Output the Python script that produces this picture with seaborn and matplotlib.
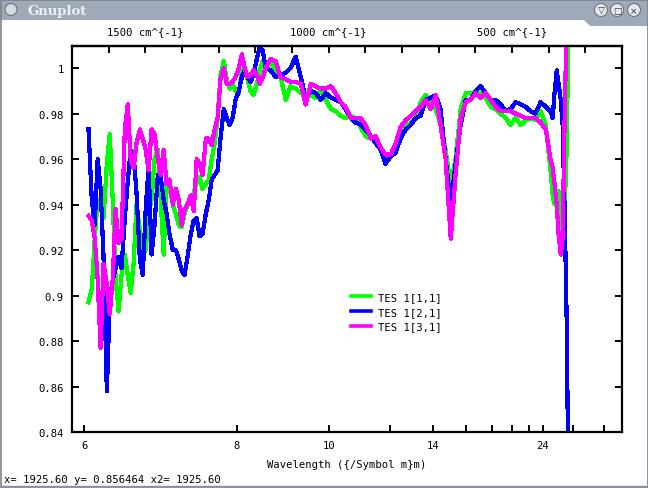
import numpy as np
import pandas as pd
import matplotlib
matplotlib.use("Agg")
import matplotlib.pyplot as plt
import seaborn as sns
from matplotlib.patches import Rectangle, Circle, Polygon

# ---------------- data ----------------
wavenumber = [1655, 1646, 1638, 1630, 1622, 1614, 1605, 1597, 1589, 1581, 1573, 1565, 1556, 1548, 1540,
              1532, 1524, 1515, 1507, 1499, 1491, 1483, 1475, 1466, 1458, 1450, 1442, 1434, 1425, 1417,
              1409, 1401, 1393, 1385, 1376, 1368, 1360, 1352, 1344, 1335, 1327, 1319, 1311, 1303, 1295,
              1286, 1278, 1270, 1262, 1254, 1245, 1237, 1229, 1221, 1213, 1205, 1196, 1188, 1180, 1172,
              1158, 1145, 1131, 1117, 1104, 1090, 1076, 1063, 1049, 1035, 1022, 1008, 994, 981, 967,
              954, 940, 926, 913, 899, 885, 872, 858, 845, 831, 817, 804, 790, 776, 763,
              749, 736, 722, 708, 695, 681, 667, 654, 640, 626, 613, 599, 586, 572, 558,
              545, 531, 517, 504, 490, 476, 463, 449, 436, 422, 408, 395,
              389, 384, 378, 373, 367, 362, 356, 351, 345]

tes_1_1 = [0.897, 0.903, 0.925, 0.942, 0.940, 0.934, 0.958, 0.971, 0.942, 0.907, 0.893, 0.909, 0.918, 0.909, 0.901,
           0.914, 0.940, 0.929, 0.918, 0.920, 0.936, 0.942, 0.960, 0.964, 0.942, 0.918, 0.949, 0.947, 0.940, 0.936,
           0.931, 0.930, 0.936, 0.940, 0.942, 0.945, 0.950, 0.952, 0.947, 0.949, 0.951, 0.960, 0.967, 0.978, 0.997,
           1.003, 0.995, 0.991, 0.993, 0.990, 0.989, 0.999, 1.000, 0.995, 0.990, 0.988, 0.993, 0.999, 1.003, 1.002,
           1.003, 0.997, 0.996, 0.986, 0.992, 0.991, 0.989, 0.989, 0.988, 0.987, 0.990, 0.986, 0.982, 0.981, 0.979,
           0.978, 0.979, 0.978, 0.974, 0.970, 0.969, 0.968, 0.964, 0.960, 0.962, 0.967, 0.971, 0.974, 0.976, 0.978,
           0.985, 0.988, 0.986, 0.982, 0.975, 0.964, 0.948, 0.960, 0.982, 0.989, 0.989, 0.989, 0.989, 0.987, 0.983,
           0.982, 0.980, 0.978, 0.975, 0.978, 0.975, 0.977, 0.978, 0.977, 0.981, 0.975, 0.955,
           0.944, 0.940, 0.942, 0.946, 0.936, 0.922, 0.940, 0.964, 1.030]

tes_2_1 = [0.973, 0.942, 0.931, 0.960, 0.947, 0.917, 0.858, 0.898, 0.907, 0.912, 0.917, 0.912, 0.934, 0.950, 0.964,
           0.962, 0.945, 0.916, 0.909, 0.938, 0.957, 0.918, 0.931, 0.953, 0.952, 0.942, 0.936, 0.927, 0.920, 0.920,
           0.916, 0.911, 0.909, 0.917, 0.927, 0.933, 0.934, 0.926, 0.927, 0.936, 0.942, 0.951, 0.953, 0.955, 0.969,
           0.982, 0.978, 0.975, 0.978, 0.986, 0.990, 0.996, 0.999, 0.996, 0.994, 0.997, 1.004, 1.009, 1.008, 1.000,
           0.999, 0.996, 0.997, 0.998, 1.000, 1.005, 0.996, 0.987, 0.990, 0.989, 0.986, 0.989, 0.987, 0.986, 0.985,
           0.982, 0.978, 0.976, 0.975, 0.973, 0.970, 0.967, 0.964, 0.958, 0.961, 0.963, 0.969, 0.973, 0.975, 0.978,
           0.979, 0.986, 0.987, 0.988, 0.982, 0.960, 0.940, 0.958, 0.975, 0.986, 0.986, 0.990, 0.992, 0.989, 0.986,
           0.986, 0.984, 0.981, 0.982, 0.985, 0.984, 0.983, 0.981, 0.980, 0.985, 0.983, 0.981,
           0.978, 0.989, 0.999, 0.993, 0.986, 0.975, 0.934, 0.890, 0.800]

tes_3_1 = [0.935, 0.933, 0.925, 0.907, 0.877, 0.914, 0.905, 0.892, 0.907, 0.938, 0.923, 0.925, 0.973, 0.984, 0.960,
           0.956, 0.967, 0.973, 0.969, 0.964, 0.955, 0.973, 0.971, 0.960, 0.953, 0.964, 0.949, 0.951, 0.940, 0.947,
           0.942, 0.931, 0.938, 0.940, 0.944, 0.937, 0.960, 0.958, 0.953, 0.969, 0.969, 0.966, 0.973, 0.978, 0.995,
           1.000, 0.993, 0.993, 0.994, 0.996, 1.000, 1.006, 1.000, 0.996, 0.997, 0.999, 0.997, 0.993, 0.996, 1.000,
           1.004, 1.003, 0.996, 0.995, 0.994, 0.994, 0.993, 0.984, 0.993, 0.992, 0.991, 0.991, 0.992, 0.989, 0.985,
           0.983, 0.978, 0.978, 0.978, 0.975, 0.969, 0.970, 0.965, 0.962, 0.962, 0.967, 0.974, 0.977, 0.979, 0.981,
           0.983, 0.986, 0.982, 0.988, 0.975, 0.960, 0.925, 0.953, 0.978, 0.985, 0.986, 0.989, 0.987, 0.989, 0.986,
           0.983, 0.981, 0.981, 0.981, 0.980, 0.979, 0.978, 0.978, 0.978, 0.976, 0.973, 0.960,
           0.956, 0.949, 0.940, 0.927, 0.918, 0.925, 0.982, 1.020, 1.050]

series_names = ["TES 1[1,1]", "TES 1[2,1]", "TES 1[3,1]"]
series_colors = ["#00ff00", "#0000ff", "#ff00ff"]

bottom_tick_um = [6, 8, 10, 12, 14, 16, 18, 20, 22, 24, 30, 40]
bottom_label_um = [6, 8, 10, 14, 24]
top_tick_wn = [1700, 1600, 1500, 1400, 1300, 1200, 1100, 1000, 900, 800, 700, 600, 500, 400, 300, 200]
top_label_wn = [1500, 1000, 500]
y_ticks = [0.84, 0.86, 0.88, 0.90, 0.92, 0.94, 0.96, 0.98, 1.00]

status_text = "x= 1925.60 y= 0.856464 x2= 1925.60"

# ---------------- figure ----------------
W, H = 648, 489
MONO = ["DejaVu Sans Mono"]
FS = 7.6

df = pd.concat([
    pd.DataFrame({"wn": wavenumber, "val": vals, "series": name})
    for name, vals in zip(series_names, [tes_1_1, tes_2_1, tes_3_1])
], ignore_index=True)

fig = plt.figure(figsize=(W / 100, H / 100), dpi=100)
fig.patch.set_facecolor("white")

# window chrome overlay (pixel coordinates)
chrome = fig.add_axes([0, 0, 1, 1], zorder=-5)
chrome.set_xlim(0, W)
chrome.set_ylim(H, 0)
chrome.axis("off")
chrome.add_patch(Polygon([(0, 0), (W, 0), (W, 27), (590, 27), (584, 21), (0, 21)],
                         closed=True, facecolor="#9fa9b7", edgecolor="none"))
chrome.add_patch(Rectangle((0.5, 0.5), W - 1, H - 1, facecolor="none", edgecolor="#7d838c", lw=1.2))
chrome.add_patch(Circle((11, 10.5), 6, facecolor="#d6d9de", edgecolor="#6c727b", lw=0.8))
chrome.text(27, 11, "Gnuplot", ha="left", va="center", fontsize=9.5, family="DejaVu Serif",
            fontweight="bold", color="#eef1f5")
for cx, sym in [(601, "\u25bd"), (617, "\u25a1"), (634, "\u00d7")]:
    chrome.add_patch(Circle((cx, 11), 6.5, facecolor="#e6e8ec", edgecolor="#6e747c", lw=0.8))
    chrome.text(cx, 11.3, sym, ha="center", va="center", fontsize=6.5, color="#30343a")
chrome.plot([0, W], [486.5, 486.5], color="#8a9098", lw=1.0)
chrome.text(4, 480, status_text, ha="left", va="center", fontsize=FS, family=MONO, color="black")

ax = fig.add_axes([72 / W, 56 / H, 550 / W, 386 / H])
sns.lineplot(data=df, x="wn", y="val", hue="series", palette=series_colors,
             hue_order=series_names, sort=False, estimator=None, lw=2.3, ax=ax, legend=False)
for ln in ax.get_lines():
    ln.set_antialiased(False)
ax.set_xlim(1700, 200)
ax.set_ylim(0.84, 1.0097)

# bottom axis: wavelength labels
ax.set_xticks([1e4 / u for u in bottom_tick_um])
ax.set_xticklabels([str(u) if u in bottom_label_um else "" for u in bottom_tick_um],
                   family=MONO, fontsize=FS)
ax.set_yticks(y_ticks)
ax.set_yticklabels([f"{v:g}" for v in y_ticks], family=MONO, fontsize=FS)
ax.tick_params(axis="x", direction="in", length=5, width=1.4, pad=6, top=False)
ax.tick_params(axis="y", direction="in", length=5, width=1.4, pad=6, right=True)
ax.set_xlabel("Wavelength ({/Symbol m}m)", family=MONO, fontsize=FS, labelpad=6)
ax.set_ylabel("")
for s in ax.spines.values():
    s.set_linewidth(1.6)
    s.set_color("black")

# top axis: wavenumber
top = ax.secondary_xaxis("top")
top.set_xticks(top_tick_wn)
top.set_xticklabels([f"{w} cm^{{-1}}" if w in top_label_wn else "" for w in top_tick_wn],
                    family=MONO, fontsize=FS)
top.tick_params(direction="in", length=5, width=1.4, pad=7)
top.spines["top"].set_linewidth(1.6)

# legend
handles = [plt.Line2D([], [], color=c, lw=2.6) for c in series_colors]
leg = ax.legend(handles, series_names, loc="upper left", bbox_to_anchor=((351 - 72) / 550, (433 - 293) / 386),
                frameon=False, handlelength=1.9, handletextpad=0.7, labelspacing=0.45,
                borderpad=0, borderaxespad=0, prop={"family": MONO, "size": FS})

fig.savefig("out.png", dpi=100)
